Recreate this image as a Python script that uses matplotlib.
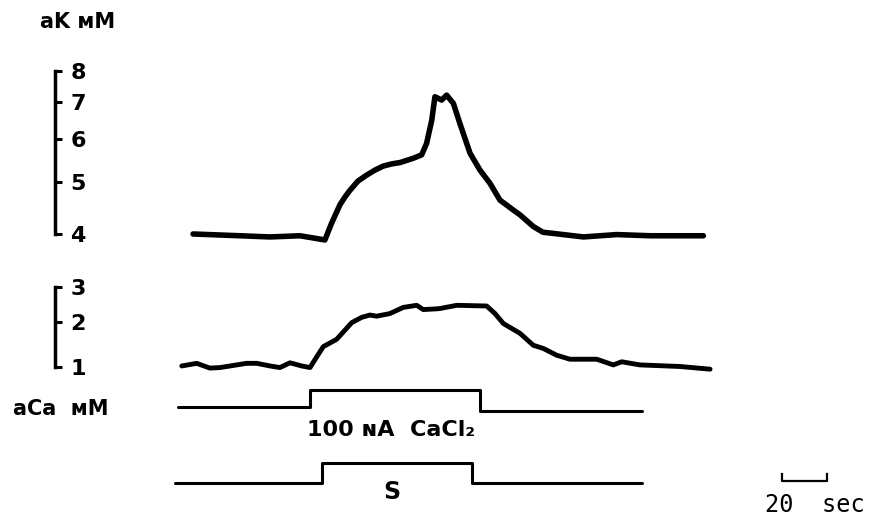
import numpy as np
import matplotlib
matplotlib.use("Agg")
import matplotlib.pyplot as plt
from matplotlib.ticker import FixedLocator, NullLocator, FormatStrFormatter

# K+ activity, time in s, activity in mM
k_time = [5.8, 26.7, 40.0, 53.3, 64.4, 67.4, 71.1, 73.3, 75.6, 79.1, 83.0, 86.7,
          90.4, 94.2, 97.8, 103.7, 107.4, 109.6, 111.9, 113.3, 116.3, 118.5,
          121.5, 124.4, 128.9, 133.3, 137.8, 142.2, 148.1, 151.1, 157.0, 161.3,
          165.9, 179.3, 194.1, 208.9, 223.7, 232.6]
k_act = [4.00, 3.97, 3.95, 3.97, 3.90, 4.19, 4.53, 4.68, 4.82, 5.01, 5.14, 5.25,
         5.34, 5.39, 5.42, 5.52, 5.60, 5.88, 6.49, 7.17, 7.07, 7.22,
         6.97, 6.40, 5.64, 5.25, 4.96, 4.62, 4.43, 4.34, 4.13, 4.03,
         4.01, 3.95, 3.99, 3.97, 3.97, 3.97]

# Ca2+ activity
ca_time = [0.8, 7.4, 13.3, 17.8, 25.2, 29.6, 34.1, 40.0, 44.4, 48.9, 54.1, 57.8,
           60.8, 63.7, 69.6, 76.3, 80.8, 84.4, 87.4, 93.3, 99.2, 105.2, 108.1,
           114.1, 115.6, 123.0, 136.3, 140.0, 143.7, 151.1, 157.0, 161.5, 167.4,
           173.3, 185.2, 192.6, 196.3, 204.4, 222.2, 235.6]
ca_act = [1.02, 1.07, 0.98, 0.99, 1.04, 1.07, 1.07, 1.02, 0.99, 1.08, 1.02, 0.99,
          1.20, 1.41, 1.57, 1.97, 2.11, 2.17, 2.14, 2.21, 2.38, 2.44, 2.32,
          2.34, 2.35, 2.44, 2.42, 2.21, 1.95, 1.71, 1.44, 1.37, 1.23,
          1.15, 1.15, 1.04, 1.10, 1.04, 1.01, 0.96]

# CaCl2 iontophoresis current and stimulus markers
cur_time = [-0.9, 57.8, 57.8, 133.3, 133.3, 205.3]
cur_level = [0, 0, 1, 1, -0.24, -0.24]
stim_time = [-2.2, 63.1, 63.1, 129.8, 129.8, 205.3]
stim_level = [0, 0, 1, 1, 0, 0]

k_ticks = [4, 5, 6, 7, 8]
ca_ticks = [1, 2, 3]
bar_len = 20  # s

plt.rcParams['font.weight'] = 'bold'

W, H = 879, 524
fig = plt.figure(figsize=(W / 100, H / 100), dpi=100)


def px_axes(top, bottom, left=0, right=W, **kw):
    return fig.add_axes([left / W, 1 - bottom / H, (right - left) / W, (bottom - top) / H], **kw)


def bracket(ax, lo, hi, ticks):
    for s in ['left', 'top', 'bottom']:
        ax.spines[s].set_visible(False)
    ax.spines['right'].set_bounds(lo, hi)
    ax.spines['right'].set_linewidth(2.5)
    ax.yaxis.tick_right()
    ax.yaxis.set_major_locator(FixedLocator(ticks))
    ax.yaxis.set_minor_locator(NullLocator())
    ax.yaxis.set_major_formatter(FormatStrFormatter('%d'))
    ax.tick_params(axis='y', direction='out', length=5, width=2.2, pad=6, labelsize=16)
    ax.set_xticks([])
    ax.patch.set_visible(False)


xlim = (-80, 310.67)
trace = dict(color='k', solid_joinstyle='round', solid_capstyle='round')

# K trace, log scale
axK = px_axes(60, 245)
axK.set_yscale('log')
axK.plot(k_time, k_act, lw=4, **trace)
axK.set_xlim(*xlim)
axK.set_ylim(3.817, 8.383)
axK.axis('off')
sK = px_axes(60, 245, 45, 55, sharey=axK)
bracket(sK, 4, 8, k_ticks)

# Ca trace
fwd = lambda v: np.log10(np.maximum(v + 1.7, 1e-6))
inv = lambda f: 10 ** f - 1.7
axC = px_axes(275, 380)
axC.set_yscale('function', functions=(fwd, inv))
axC.plot(ca_time, ca_act, lw=3.5, **trace)
axC.set_xlim(*xlim)
axC.set_ylim(0.768, 3.407)
axC.axis('off')
sC = px_axes(275, 380, 45, 55, sharey=axC)
bracket(sC, 1, 3, ca_ticks)

# current pulse
axI = px_axes(385, 415)
axI.plot(cur_time, cur_level, lw=2.2, **trace)
axI.set_xlim(*xlim)
axI.set_ylim(-0.47, 1.29)
axI.axis('off')

# stimulus + time bar
axS = px_axes(458, 488)
axS.plot(stim_time, stim_level, lw=2.2, **trace)
t0 = 267.6
axS.plot([t0, t0, t0 + bar_len, t0 + bar_len], [0.45, 0.1, 0.1, 0.45], color='k', lw=1.6)
axS.set_xlim(*xlim)
axS.set_ylim(-0.25, 1.25)
axS.axis('off')

fig.text(40 / W, 1 - 22 / H, 'aK ᴍM', ha='left', va='center', fontsize=15)
fig.text(13 / W, 1 - 409 / H, 'aCa  ᴍM', ha='left', va='center', fontsize=15)
fig.text(391 / W, 1 - 430 / H, '100 ɴA  CaCl₂', ha='center', va='center', fontsize=16)
fig.text(392 / W, 1 - 492 / H, 'S', ha='center', va='center', fontsize=17)
fig.text(815 / W, 1 - 505 / H, '20  sec', ha='center', va='center', fontsize=17,
         family='DejaVu Sans Mono', fontweight='normal')

fig.savefig('out.png', dpi=100)
